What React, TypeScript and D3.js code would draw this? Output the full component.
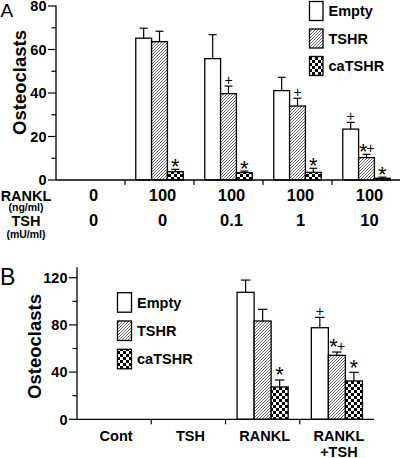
import React from "react";
import * as d3 from "d3";

const FONT = "'Liberation Sans', Arial, Helvetica, sans-serif";

const seriesNames = ["Empty", "TSHR", "caTSHR"];

// ---- Panel A data ----
const groupsA = ["g1", "g2", "g3", "g4", "g5"];
const ranklLabelsA = ["0", "100", "100", "100", "100"];
const tshLabelsA = ["0", "0", "0.1", "1", "10"];
const emptyA = [0, 65.2, 55.8, 41.1, 23.4];
const emptyErrA = [0, 4.6, 11.0, 6.1, 3.1];
const emptyMarkA = ["", "", "", "", "+"];
const tshrA = [0, 63.6, 39.7, 34.0, 10.3];
const tshrErrA = [0, 4.8, 3.5, 3.6, 1.5];
const tshrMarkA = ["", "", "+", "+", "*+"];
const caA = [0, 3.8, 3.4, 3.5, 0.8];
const caErrA = [0, 1.1, 0.7, 1.9, 0.5];
const caMarkA = ["", "*", "*", "*", "*"];
const yTicksA = [0, 20, 40, 60, 80];
const yMinorA = [10, 30, 50, 70];

// ---- Panel B data ----
const groupsB = ["Cont", "TSH", "RANKL", "RANKL+TSH"];
const groupLinesB = [["Cont"], ["TSH"], ["RANKL"], ["RANKL", "+TSH"]];
const emptyB = [0, 0, 107.6, 77.6];
const emptyErrB = [0, 0, 10.4, 8.8];
const emptyMarkB = ["", "", "", "+"];
const tshrB = [0, 0, 83.3, 54.2];
const tshrErrB = [0, 0, 9.9, 2.8];
const tshrMarkB = ["", "", "", "*+"];
const caB = [0, 0, 27.4, 32.5];
const caErrB = [0, 0, 5.9, 7.3];
const caMarkB = ["", "", "*", "*"];
const yTicksB = [0, 40, 80, 120];
const yMinorB = [20, 60, 100];

const fills = ["#ffffff", "url(#hatch)", "url(#checker)"];

const STAR_SIZE = 22;
const PLUS_SIZE = 14;

function Mark({ cx, top, mark, starOff, plusOff }) {
  if (!mark) return null;
  const starY = top - starOff + STAR_SIZE * 0.52;
  const plusY = top - plusOff + PLUS_SIZE * 0.35;
  if (mark === "*")
    return (
      <text x={cx} y={starY} textAnchor="middle" fontSize={STAR_SIZE} fontFamily={FONT}>
        *
      </text>
    );
  if (mark === "+")
    return (
      <text x={cx} y={plusY} textAnchor="middle" fontSize={PLUS_SIZE} fontFamily={FONT}>
        +
      </text>
    );
  return (
    <g>
      <text x={cx + 1} y={starY} textAnchor="end" fontSize={STAR_SIZE} fontFamily={FONT}>
        *
      </text>
      <text x={cx} y={plusY} textAnchor="start" fontSize={PLUS_SIZE} fontFamily={FONT}>
        +
      </text>
    </g>
  );
}

function Panel({ groups, xRange, yDomain, yRange, axisTop, data, ticks, minor, capW, starOff, plusOff }) {
  const x0 = d3.scaleBand().domain(groups).range(xRange).paddingInner(0).paddingOuter(0);
  const x1 = d3.scaleBand().domain(seriesNames).range([0, x0.bandwidth()]).paddingInner(0).paddingOuter(0.68);
  const y = d3.scaleLinear().domain(yDomain).range(yRange);
  const y0 = y(0);
  const ax = xRange[0];
  return (
    <g>
      {groups.map((g, gi) =>
        seriesNames.map((s, si) => {
          const v = data[si].values[gi];
          const e = data[si].errs[gi];
          const m = data[si].marks[gi];
          const bx = x0(g) + x1(s);
          const bw = x1.bandwidth();
          const cx = bx + bw / 2;
          const top = y(v + e);
          return (
            <g key={g + s}>
              <rect x={bx} y={y(v)} width={bw} height={y0 - y(v)} fill={fills[si]} stroke="#000" strokeWidth={1.3} />
              {e > 0 && (
                <g stroke="#000" strokeWidth={1.2}>
                  <line x1={cx} x2={cx} y1={y(v)} y2={top} />
                  <line x1={cx - capW / 2} x2={cx + capW / 2} y1={top} y2={top} />
                </g>
              )}
              <Mark cx={cx} top={top} mark={m} starOff={starOff} plusOff={plusOff} />
            </g>
          );
        })
      )}
      {/* axes */}
      <line x1={ax} x2={ax} y1={y0} y2={axisTop} stroke="#000" strokeWidth={1.3} />
      <line x1={ax} x2={xRange[1]} y1={y0} y2={y0} stroke="#000" strokeWidth={1.3} />
      {ticks.map((t) => (
        <g key={"t" + t}>
          <line x1={ax - 8} x2={ax} y1={y(t)} y2={y(t)} stroke="#000" strokeWidth={1.2} />
          <text x={ax - 9.5} y={y(t) + 5.2} textAnchor="end" fontSize={14.5} fontWeight="bold" fontFamily={FONT}>
            {t}
          </text>
        </g>
      ))}
      {minor.map((t) => (
        <line key={"m" + t} x1={ax - 4.5} x2={ax} y1={y(t)} y2={y(t)} stroke="#000" strokeWidth={1.2} />
      ))}
      {groups.slice(1).map((g) => (
        <line key={"gt" + g} x1={x0(g)} x2={x0(g)} y1={y0} y2={y0 + 5} stroke="#000" strokeWidth={1.2} />
      ))}
    </g>
  );
}

function Legend({ x, ys, w, h }) {
  return (
    <g>
      {seriesNames.map((s, i) => (
        <g key={s}>
          <rect x={x} y={ys[i]} width={w} height={h} fill={fills[i]} stroke="#000" strokeWidth={1.3} />
          <text x={x + w + 5.5} y={ys[i] + h / 2 + 5.2} fontSize={14.5} fontWeight="bold" fontFamily={FONT}>
            {s}
          </text>
        </g>
      ))}
    </g>
  );
}

export default function App() {
  const dataA = [
    { values: emptyA, errs: emptyErrA, marks: emptyMarkA },
    { values: tshrA, errs: tshrErrA, marks: tshrMarkA },
    { values: caA, errs: caErrA, marks: caMarkA },
  ];
  const dataB = [
    { values: emptyB, errs: emptyErrB, marks: emptyMarkB },
    { values: tshrB, errs: tshrErrB, marks: tshrMarkB },
    { values: caB, errs: caErrB, marks: caMarkB },
  ];
  const xA = d3.scaleBand().domain(groupsA).range([56, 401]);
  const xB = d3.scaleBand().domain(groupsB).range([77, 374]);
  return (
    <svg width={400} height={458} style={{ position: "absolute", left: 0, top: 0, background: "#fff" }}>
      <defs>
        <pattern id="hatch" patternUnits="userSpaceOnUse" width={3} height={3}>
          <rect width={3} height={3} fill="#fff" />
          <path d="M-0.75,0.75 l1.5,-1.5 M0,3 l3,-3 M2.25,3.75 l1.5,-1.5" stroke="#444" strokeWidth={0.8} />
        </pattern>
        <pattern id="checker" patternUnits="userSpaceOnUse" width={6} height={6}>
          <rect width={6} height={6} fill="#fff" />
          <rect width={3} height={3} fill="#000" />
          <rect x={3} y={3} width={3} height={3} fill="#000" />
        </pattern>
      </defs>
      <rect width={400} height={458} fill="#fff" />

      {/* Panel A */}
      <text x={0.5} y={17} fontSize={19} fontFamily={FONT}>A</text>
      <text transform="translate(26,82.5) rotate(-90)" textAnchor="middle" fontSize={18.5} fontWeight="bold" fontFamily={FONT}>
        Osteoclasts
      </text>
      <Panel
        groups={groupsA}
        xRange={[56, 401]}
        yDomain={[0, 80]}
        yRange={[180, 6]}
        axisTop={5.5}
        data={dataA}
        ticks={yTicksA}
        minor={yMinorA}
        capW={8}
        starOff={7}
        plusOff={6}
      />
      <Legend x={309.5} ys={[1.5, 29, 56.5]} w={13.5} h={19} />
      <text x={26} y={201} textAnchor="middle" fontSize={14.5} fontWeight="bold" fontFamily={FONT}>RANKL</text>
      <text x={26} y={210.5} textAnchor="middle" fontSize={10.5} fontWeight="bold" fontFamily={FONT}>(ng/ml)</text>
      <text x={26} y={226} textAnchor="middle" fontSize={14.5} fontWeight="bold" fontFamily={FONT}>TSH</text>
      <text x={26} y={237.5} textAnchor="middle" fontSize={10.5} fontWeight="bold" fontFamily={FONT}>(mU/ml)</text>
      {groupsA.map((g, i) => (
        <g key={"la" + g}>
          <text x={xA(g) + xA.bandwidth() / 2 + 3} y={201} textAnchor="middle" fontSize={16.5} fontWeight="bold" fontFamily={FONT}>
            {ranklLabelsA[i]}
          </text>
          <text x={xA(g) + xA.bandwidth() / 2 + 3} y={225.5} textAnchor="middle" fontSize={16.5} fontWeight="bold" fontFamily={FONT}>
            {tshLabelsA[i]}
          </text>
        </g>
      ))}

      {/* Panel B */}
      <text x={0} y={284.5} fontSize={23} fontFamily={FONT}>B</text>
      <text transform="translate(41,346.5) rotate(-90)" textAnchor="middle" fontSize={18.5} fontWeight="bold" fontFamily={FONT}>
        Osteoclasts
      </text>
      <Panel
        groups={groupsB}
        xRange={[77, 374]}
        yDomain={[0, 120]}
        yRange={[419.3, 277.7]}
        axisTop={267.3}
        data={dataB}
        ticks={yTicksB}
        minor={yMinorB}
        capW={9.5}
        starOff={9}
        plusOff={6}
      />
      <Legend x={117.5} ys={[292.7, 321, 349.3]} w={14} h={19.5} />
      {groupsB.map((g, i) => (
        <text key={"lb" + g} textAnchor="middle" fontSize={14.5} fontWeight="bold" fontFamily={FONT}>
          {groupLinesB[i].map((ln, li) => (
            <tspan key={li} x={xB(g) + xB.bandwidth() / 2 + 2} y={441 + li * 16.3}>
              {ln}
            </tspan>
          ))}
        </text>
      ))}
    </svg>
  );
}
